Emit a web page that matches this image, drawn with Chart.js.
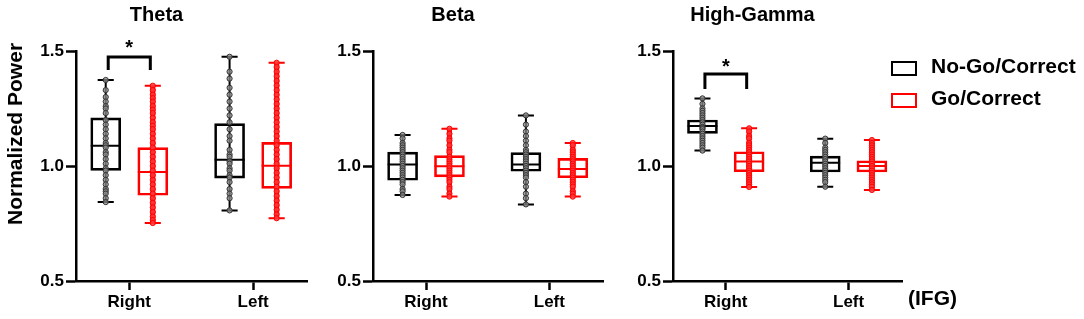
<!DOCTYPE html>
<html>
<head>
<meta charset="utf-8">
<script src="https://cdn.jsdelivr.net/npm/chart.js@4.4.0/dist/chart.umd.min.js"></script>
<style>
  body { margin: 0; background: #fff; font-family: "Liberation Sans", Arial, sans-serif; }
  #wrap { position: relative; width: 1084px; height: 319px; overflow: hidden; }
  .panel { position: absolute; top: 0; height: 319px; }
  .lbl { position: absolute; font-weight: bold; color: #000; white-space: nowrap; }
  .key { position: absolute; width: 22px; height: 11px; border: 2px solid #000; }
</style>
</head>
<body>
<div id="wrap">
  <div class="panel" style="left:0;width:320px"><canvas id="theta"></canvas></div>
  <div class="panel" style="left:303px;width:310px"><canvas id="beta"></canvas></div>
  <div class="panel" style="left:603px;width:310px"><canvas id="gamma"></canvas></div>

  <div class="lbl" style="left:15px;top:134px;font-size:21px;transform:translate(-50%,-50%) rotate(-90deg)">Normalized Power</div>

  <div class="key" style="left:891px;top:61px;border-color:#000"></div>
  <div class="lbl" style="left:931px;top:54px;font-size:21px">No-Go/Correct</div>
  <div class="key" style="left:891px;top:93px;border-color:#ff0000"></div>
  <div class="lbl" style="left:931px;top:86px;font-size:21px">Go/Correct</div>

  <div class="lbl" style="left:908px;top:286px;font-size:21px">(IFG)</div>
</div>

<script>
const panelTitles = ['Theta', 'Beta', 'High-Gamma'];
const sideLabels = ['Right', 'Left'];
const yTickValues = [0.5, 1.0, 1.5];

// box stats: [min, q1, median, q3, max] for [Right, Left]
const noGoTheta = [[0.843, 0.981, 1.088, 1.209, 1.374], [0.807, 0.947, 1.027, 1.184, 1.475]];
const goTheta   = [[0.752, 0.873, 0.974, 1.080, 1.349], [0.773, 0.903, 1.001, 1.103, 1.449]];
const noGoBeta  = [[0.874, 0.938, 1.006, 1.060, 1.135], [0.833, 0.977, 1.007, 1.058, 1.220]];
const goBeta    = [[0.867, 0.953, 0.999, 1.045, 1.162], [0.867, 0.949, 0.987, 1.033, 1.100]];
const noGoGamma = [[1.067, 1.142, 1.174, 1.200, 1.294], [0.910, 0.974, 1.014, 1.043, 1.119]];
const goGamma   = [[0.909, 0.975, 1.020, 1.062, 1.164], [0.896, 0.974, 1.000, 1.023, 1.113]];

// individual points for [Right, Left]
const noGoThetaDots = [
  [1.374, 1.33, 1.30, 1.28, 1.26, 1.25, 1.23, 1.20, 1.18, 1.16, 1.14, 1.12, 1.10, 1.09, 1.08, 1.06, 1.05, 1.03, 1.01, 0.99, 0.98, 0.96, 0.94, 0.92, 0.90, 0.89, 0.88, 0.86, 0.843],
  [1.475, 1.41, 1.38, 1.34, 1.31, 1.28, 1.25, 1.22, 1.19, 1.16, 1.13, 1.11, 1.07, 1.05, 1.04, 1.02, 1.01, 0.99, 0.98, 0.96, 0.95, 0.93, 0.90, 0.88, 0.86, 0.807]
];
const goThetaDots = [
  [1.349, 1.33, 1.31, 1.295, 1.28, 1.26, 1.245, 1.23, 1.21, 1.19, 1.175, 1.16, 1.14, 1.12, 1.10, 1.08, 1.06, 1.04, 1.02, 1.00, 0.98, 0.96, 0.94, 0.92, 0.90, 0.88, 0.86, 0.84, 0.82, 0.80, 0.78, 0.765, 0.752],
  [1.449, 1.43, 1.41, 1.39, 1.37, 1.35, 1.33, 1.31, 1.29, 1.27, 1.25, 1.23, 1.21, 1.19, 1.17, 1.15, 1.13, 1.11, 1.09, 1.07, 1.05, 1.03, 1.01, 0.99, 0.97, 0.95, 0.93, 0.91, 0.89, 0.87, 0.85, 0.83, 0.81, 0.79, 0.773]
];
const noGoBetaDots = [
  [1.135, 1.12, 1.10, 1.09, 1.08, 1.07, 1.06, 1.05, 1.04, 1.03, 1.02, 1.01, 1.00, 0.99, 0.98, 0.97, 0.96, 0.95, 0.94, 0.93, 0.92, 0.90, 0.89, 0.874],
  [1.220, 1.18, 1.15, 1.13, 1.11, 1.09, 1.07, 1.06, 1.05, 1.04, 1.03, 1.02, 1.01, 1.00, 0.99, 0.98, 0.97, 0.96, 0.95, 0.93, 0.91, 0.88, 0.86, 0.833]
];
const goBetaDots = [
  [1.162, 1.14, 1.12, 1.11, 1.09, 1.07, 1.06, 1.04, 1.03, 1.02, 1.01, 1.00, 0.99, 0.98, 0.97, 0.96, 0.95, 0.94, 0.93, 0.91, 0.90, 0.88, 0.867],
  [1.100, 1.09, 1.07, 1.06, 1.05, 1.04, 1.03, 1.02, 1.01, 1.00, 0.99, 0.98, 0.97, 0.96, 0.95, 0.94, 0.93, 0.92, 0.91, 0.89, 0.88, 0.867]
];
const noGoGammaDots = [
  [1.294, 1.27, 1.25, 1.24, 1.23, 1.22, 1.21, 1.20, 1.19, 1.18, 1.17, 1.165, 1.16, 1.15, 1.14, 1.13, 1.12, 1.11, 1.10, 1.09, 1.08, 1.067],
  [1.119, 1.10, 1.08, 1.07, 1.06, 1.05, 1.04, 1.03, 1.02, 1.01, 1.00, 0.99, 0.98, 0.97, 0.96, 0.95, 0.94, 0.93, 0.910]
];
const goGammaDots = [
  [1.164, 1.15, 1.13, 1.12, 1.10, 1.09, 1.08, 1.07, 1.06, 1.05, 1.04, 1.03, 1.02, 1.01, 1.00, 0.99, 0.98, 0.97, 0.96, 0.95, 0.94, 0.93, 0.92, 0.909],
  [1.113, 1.10, 1.09, 1.08, 1.07, 1.06, 1.05, 1.04, 1.03, 1.02, 1.01, 1.00, 0.99, 0.98, 0.97, 0.96, 0.95, 0.94, 0.93, 0.92, 0.91, 0.896]
];

// significance bracket: [side index, leg value, top value, star value]
const thetaSig = [0, 1.417, 1.474, 1.51];
const gammaSig = [0, 1.335, 1.400, 1.43];

const BLACK = '#000000';
const RED = '#ff0000';
const boxOffset = 0.19;
const capHalf = 0.065;
const medHalf = 0.121;
const FONT = '"Liberation Sans", Arial, sans-serif';

function groupDatasets(stats, dots, off, color, dotFill, streakWidth) {
  const whisk = [], marks = [], pts = [];
  stats.forEach((s, i) => {
    const x = i + off;
    whisk.push({x: x, y: s[0]}, {x: x, y: s[4]}, {x: x, y: null});
    marks.push({x: x - capHalf, y: s[0]}, {x: x + capHalf, y: s[0]}, {x: x, y: null});
    marks.push({x: x - capHalf, y: s[4]}, {x: x + capHalf, y: s[4]}, {x: x, y: null});
    marks.push({x: x - medHalf, y: s[2]}, {x: x + medHalf, y: s[2]}, {x: x, y: null});
    dots[i].forEach(v => pts.push({x: x, y: v}));
  });
  return [
    {
      type: 'bar',
      data: stats.map((s, i) => ({x: i + off, y: [s[1], s[3]]})),
      backgroundColor: 'rgba(0,0,0,0)',
      borderColor: color,
      borderWidth: 2,
      borderSkipped: false,
      barThickness: 30,
      grouped: false,
      order: 3
    },
    {
      type: 'line',
      data: whisk,
      borderColor: color,
      borderWidth: streakWidth,
      pointRadius: 0,
      spanGaps: false,
      order: 2
    },
    {
      type: 'line',
      data: marks,
      borderColor: color,
      borderWidth: 2,
      pointRadius: 0,
      spanGaps: false,
      order: 1
    },
    {
      type: 'scatter',
      data: pts,
      pointRadius: 2.6,
      pointBorderWidth: 1,
      pointBackgroundColor: dotFill,
      pointBorderColor: color === RED ? RED : '#333333',
      order: 0
    }
  ];
}

function bracketDataset(sig) {
  if (!sig) return [];
  const [side, leg, top] = sig;
  return [{
    type: 'line',
    data: [
      {x: side - 0.17, y: leg}, {x: side - 0.17, y: top},
      {x: side + 0.17, y: top}, {x: side + 0.17, y: leg}
    ],
    borderColor: BLACK,
    borderWidth: 3,
    pointRadius: 0,
    order: 0,
    clip: false
  }];
}

const starPlugin = {
  id: 'star',
  afterDatasetsDraw(chart, args, opts) {
    const sig = opts.sig;
    if (!sig) return;
    const ctx = chart.ctx;
    const x = chart.scales.x.getPixelForValue(sig[0]);
    const y = chart.scales.y.getPixelForValue(sig[3]);
    ctx.save();
    ctx.fillStyle = BLACK;
    ctx.font = 'bold 20px ' + FONT;
    ctx.textAlign = 'center';
    ctx.textBaseline = 'middle';
    ctx.fillText('*', x, y);
    ctx.restore();
  }
};

function makePanel(id, title, noGo, go, noGoDots, goDots, sig, pad) {
  const datasets = [].concat(
    groupDatasets(noGo, noGoDots, -boxOffset, BLACK, 'rgba(140,140,140,0.75)', 2),
    groupDatasets(go, goDots, boxOffset, RED, 'rgba(255,60,60,0.85)', 5),
    bracketDataset(sig)
  );
  new Chart(document.getElementById(id), {
    type: 'bar',
    data: {datasets: datasets},
    plugins: [starPlugin],
    options: {
      responsive: true,
      maintainAspectRatio: false,
      animation: false,
      layout: {padding: {top: 3, left: pad.left, right: pad.right, bottom: 0}},
      plugins: {
        legend: {display: false},
        tooltip: {enabled: false},
        star: {sig: sig},
        title: {
          display: true,
          text: title,
          color: BLACK,
          font: {family: FONT, size: 20, weight: 'bold'},
          padding: {top: 0, bottom: 24}
        }
      },
      scales: {
        x: {
          type: 'linear',
          min: -0.43,
          max: 1.435,
          offset: false,
          afterBuildTicks: s => { s.ticks = sideLabels.map((_, i) => ({value: i})); },
          afterFit: s => { s.height = 38; },
          ticks: {
            callback: (v, i) => sideLabels[i],
            color: BLACK,
            font: {family: FONT, size: 17, weight: 'bold'},
            padding: 2,
            maxRotation: 0
          },
          grid: {display: true, offset: false, drawOnChartArea: false, drawTicks: true, tickLength: 9, tickWidth: 2.5, tickColor: BLACK},
          border: {display: true, color: BLACK, width: 2.5}
        },
        y: {
          min: 0.5,
          max: 1.5,
          afterBuildTicks: s => { s.ticks = yTickValues.map(v => ({value: v})); },
          afterFit: s => { s.width = 70; },
          ticks: {
            callback: v => v.toFixed(1),
            color: BLACK,
            font: {family: FONT, size: 17, weight: 'bold'},
            padding: 2
          },
          grid: {display: true, drawOnChartArea: false, drawTicks: true, tickLength: 10, tickWidth: 2.5, tickColor: BLACK},
          border: {display: true, color: BLACK, width: 2.5}
        }
      }
    }
  });
}

makePanel('theta', panelTitles[0], noGoTheta, goTheta, noGoThetaDots, goThetaDots, thetaSig, {left: 6, right: 13});
makePanel('beta', panelTitles[1], noGoBeta, goBeta, noGoBetaDots, goBetaDots, null, {left: 0, right: 10});
makePanel('gamma', panelTitles[2], noGoGamma, goGamma, noGoGammaDots, goGammaDots, gammaSig, {left: 0, right: 11});
</script>
</body>
</html>
